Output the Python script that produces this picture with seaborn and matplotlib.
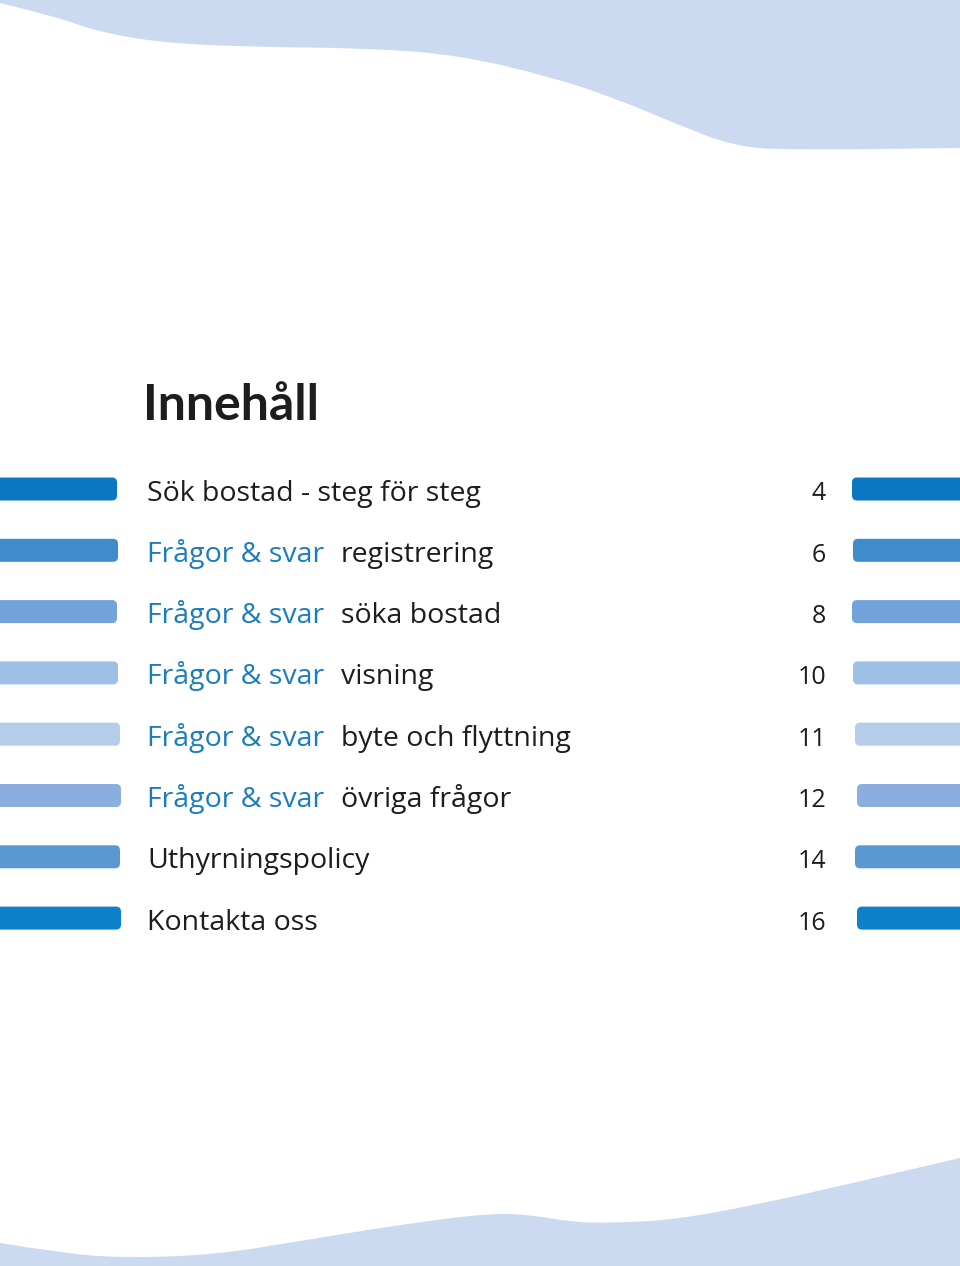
import numpy as np
import matplotlib.pyplot as plt
import seaborn as sns
from matplotlib.patches import FancyBboxPatch, PathPatch
from matplotlib.path import Path

sns.set_theme(style="white")
plt.rcParams['font.family'] = ['Open Sans', 'DejaVu Sans']

# Table of contents
prefixes = ["", "Frågor & svar", "Frågor & svar", "Frågor & svar",
            "Frågor & svar", "Frågor & svar", "", ""]
topics = ["Sök bostad - steg för steg", "registrering", "söka bostad", "visning",
          "byte och flyttning", "övriga frågor", "Uthyrningspolicy", "Kontakta oss"]
pages = [4, 6, 8, 10, 11, 12, 14, 16]
bar_colors = ["#0b77c2", "#3e8ccc", "#72a3d8", "#9ebfe6",
              "#b5cdeb", "#8aafdf", "#5b98d1", "#0c81c9"]
left_bar_len = [117, 118, 117, 118, 120, 121, 120, 121]
right_bar_len = [108, 107, 108, 107, 105, 103, 105, 103]

# wave outlines (pixels)
top_wave_x = [0, 61, 92, 153, 245, 367, 459, 551, 612, 674, 735, 796, 960]
top_wave_y = [3, 18, 30, 42, 47, 48, 55, 77, 97, 123, 147, 150, 148]
bottom_wave_x = [0, 61, 122, 214, 306, 398, 490, 533, 570, 612, 674, 765, 857, 960]
bottom_wave_y = [1243, 1253, 1258, 1255, 1240, 1225, 1213, 1215, 1222, 1223, 1220, 1203, 1182, 1158]

W, H = 960, 1266
wave_color = "#cbdaf0"
blue_text = "#1b7dbf"
dark_text = "#1e1c1d"
row_px = 61.3
first_row = 489


def wave_path(xs, ys, close_y):
    # smooth outline: read points as quadratic control points
    pts = list(zip(xs, ys))
    verts = [pts[0]]
    codes = [Path.MOVETO]
    for i in range(1, len(pts) - 1):
        mid = ((pts[i][0] + pts[i + 1][0]) / 2, (pts[i][1] + pts[i + 1][1]) / 2)
        verts += [pts[i], mid]
        codes += [Path.CURVE3, Path.CURVE3]
    verts += [pts[-1], (W, close_y), (0, close_y), pts[0]]
    codes += [Path.LINETO, Path.LINETO, Path.LINETO, Path.CLOSEPOLY]
    return Path(verts, codes)


def round_bars(ax):
    # swap seaborn's rectangles for slightly rounded ones
    for bar in list(ax.patches):
        x0, y0 = bar.get_x(), bar.get_y()
        w, h = bar.get_width(), bar.get_height()
        fc = bar.get_facecolor()
        bar.remove()
        ax.add_patch(FancyBboxPatch((x0 - 10, y0), w + 10, h,
                                    boxstyle="round,pad=0,rounding_size=5",
                                    mutation_aspect=1 / row_px,
                                    fc=fc, ec="none", lw=0))


fig = plt.figure(figsize=(W / 100, H / 100), dpi=100)
fig.patch.set_facecolor("white")

# page layer in pixel coordinates
page = fig.add_axes([0, 0, 1, 1])
page.set_xlim(0, W)
page.set_ylim(H, 0)
page.axis("off")
page.add_patch(PathPatch(wave_path(top_wave_x, top_wave_y, 0), fc=wave_color, ec="none"))
page.add_patch(PathPatch(wave_path(bottom_wave_x, bottom_wave_y, H), fc=wave_color, ec="none"))
page.text(143, 420, "Innehåll", fontsize=36, fontweight="bold", color=dark_text,
          va="baseline", family=["Lato", "DejaVu Sans"])

# contents rows
n = len(topics)
top_px = first_row - row_px / 2
bottom_px = first_row + row_px * (n - 0.5)
rect = [0, 1 - bottom_px / H, 1, (bottom_px - top_px) / H]
labels = [(p + " " + t).strip() for p, t in zip(prefixes, topics)]

left_ax = fig.add_axes(rect)
sns.barplot(x=left_bar_len, y=labels, hue=labels, palette=bar_colors, legend=False,
            orient="h", width=23 / row_px, saturation=1, ax=left_ax)
left_ax.set_xlim(0, W)
left_ax.set_ylim(n - 0.5, -0.5)
left_ax.axis("off")
round_bars(left_ax)

right_ax = fig.add_axes(rect)
sns.barplot(x=right_bar_len, y=labels, hue=labels, palette=bar_colors, legend=False,
            orient="h", width=23 / row_px, saturation=1, ax=right_ax)
right_ax.set_xlim(W, 0)
right_ax.set_ylim(n - 0.5, -0.5)
right_ax.axis("off")
right_ax.patch.set_alpha(0)
round_bars(right_ax)

base = 11.5 / row_px
for i, (p, t, pg) in enumerate(zip(prefixes, topics, pages)):
    if p:
        left_ax.text(147, i + base, p, fontsize=20.5, color=blue_text, va="baseline")
        left_ax.text(341, i + base, t, fontsize=20.5, color=dark_text, va="baseline")
    else:
        left_ax.text(147, i + base, t, fontsize=20.5, color=dark_text, va="baseline")
    left_ax.text(826, i + base, str(pg), fontsize=18, color=dark_text, va="baseline", ha="right")

fig.savefig("out.png", dpi=100, facecolor="white")
